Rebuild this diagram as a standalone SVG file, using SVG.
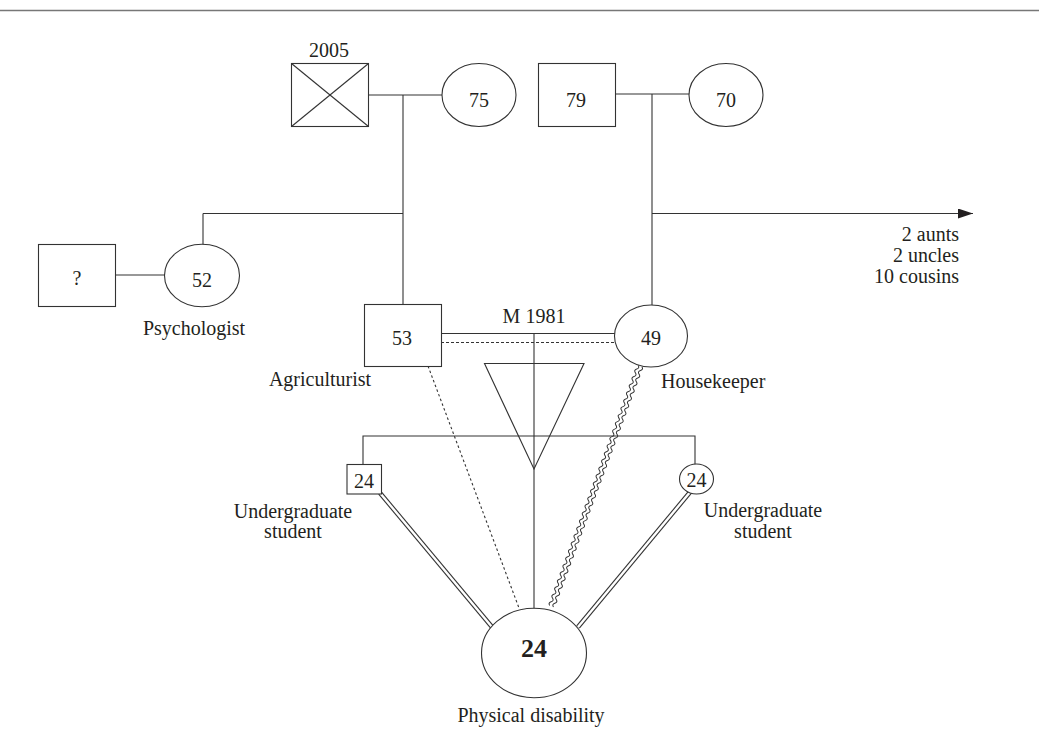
<svg xmlns="http://www.w3.org/2000/svg" width="1039" height="753" viewBox="0 0 1039 753">
<defs>
<style>
.s{fill:#fff;stroke:#333;stroke-width:1.1}
.ln{fill:none;stroke:#333;stroke-width:1.1}
.t{font-family:"Liberation Serif","Times New Roman",serif;font-size:20px;fill:#231f20}
.m{text-anchor:middle}
.e{text-anchor:end}
.dbl{fill:none;stroke:#333;stroke-width:4.6}
.dblw{fill:none;stroke:#fff;stroke-width:2.4}
.wv{fill:none;stroke:#333;stroke-width:1}
</style>
<marker id="arr" markerUnits="userSpaceOnUse" markerWidth="16" markerHeight="10" refX="15" refY="5" orient="auto">
<path d="M0,0 L15,5 L0,10 z" fill="#231f20"/>
</marker>
</defs>
<rect width="1039" height="753" fill="#fff"/>
<line x1="0" y1="10.5" x2="1039" y2="10.5" stroke="#777" stroke-width="1.5"/>

<g id="connectors">
<line class="ln" x1="368" y1="95" x2="442" y2="95"/>
<line class="ln" x1="403" y1="95" x2="403" y2="305"/>
<line class="ln" x1="203" y1="213.5" x2="403" y2="213.5"/>
<line class="ln" x1="203" y1="213.5" x2="203" y2="245"/>
<line class="ln" x1="115" y1="275" x2="165" y2="275"/>
<line class="ln" x1="615" y1="94" x2="690" y2="94"/>
<line class="ln" x1="652" y1="94" x2="652" y2="306"/>
<line class="ln" x1="652" y1="213.5" x2="973" y2="213.5" marker-end="url(#arr)"/>
<line class="ln" x1="441" y1="333.5" x2="615" y2="333.5"/>
<line class="ln" x1="441" y1="342.5" x2="615" y2="342.5" stroke-dasharray="3,2"/>
<line class="ln" x1="534" y1="333.5" x2="534" y2="609"/>
<polyline class="ln" points="363,465 363,436 695,436 695,465"/>
<line class="ln" x1="428" y1="366" x2="519" y2="608" stroke-dasharray="2.5,2.5" stroke-width="0.9"/>
<line class="dbl" x1="380" y1="493" x2="492" y2="627"/>
<line class="dblw" x1="380" y1="493" x2="492" y2="627"/>
<line class="dbl" x1="691" y1="491" x2="578" y2="627"/>
<line class="dblw" x1="691" y1="491" x2="578" y2="627"/>
<g transform="translate(640,366) rotate(110.2)">
<path class="wv" d="M0,-2 q2,-2.6 4,0 t4,0 4,0 4,0 4,0 4,0 4,0 4,0 4,0 4,0 4,0 4,0 4,0 4,0 4,0 4,0 4,0 4,0 4,0 4,0 4,0 4,0 4,0 4,0 4,0 4,0 4,0 4,0 4,0 4,0 4,0 4,0 4,0 4,0 4,0 4,0 4,0 4,0 4,0 4,0 4,0 4,0 4,0 4,0 4,0 4,0 4,0 4,0 4,0 4,0 4,0 4,0 4,0 4,0 4,0 4,0 4,0 4,0 4,0 4,0 4,0 4,0 4,0 4,0"/>
<path class="wv" d="M0,2 q2,-2.6 4,0 t4,0 4,0 4,0 4,0 4,0 4,0 4,0 4,0 4,0 4,0 4,0 4,0 4,0 4,0 4,0 4,0 4,0 4,0 4,0 4,0 4,0 4,0 4,0 4,0 4,0 4,0 4,0 4,0 4,0 4,0 4,0 4,0 4,0 4,0 4,0 4,0 4,0 4,0 4,0 4,0 4,0 4,0 4,0 4,0 4,0 4,0 4,0 4,0 4,0 4,0 4,0 4,0 4,0 4,0 4,0 4,0 4,0 4,0 4,0 4,0 4,0 4,0 4,0"/>
</g>
<text class="t m" x="534" y="323">M 1981</text>
<text class="t e" x="959" y="241">2 aunts</text>
<text class="t e" x="959" y="262">2 uncles</text>
<text class="t e" x="959" y="283">10 cousins</text>
</g>

<g id="grandfather-paternal">
<rect class="s" x="291.5" y="63.5" width="77" height="63"/>
<line class="ln" x1="291.5" y1="63.5" x2="368.5" y2="126.5"/>
<line class="ln" x1="368.5" y1="63.5" x2="291.5" y2="126.5"/>
<text class="t m" x="329" y="57">2005</text>
</g>
<g id="grandmother-paternal">
<ellipse class="s" cx="479" cy="95" rx="37" ry="31.5"/>
<text class="t m" x="479" y="107">75</text>
</g>
<g id="grandfather-maternal">
<rect class="s" x="538.5" y="63.5" width="77" height="63"/>
<text class="t m" x="576" y="107">79</text>
</g>
<g id="grandmother-maternal">
<ellipse class="s" cx="726" cy="95" rx="37" ry="31.5"/>
<text class="t m" x="726" y="107">70</text>
</g>
<g id="aunt-spouse">
<rect class="s" x="38.5" y="244.5" width="77" height="62"/>
<text class="t m" x="77" y="285">?</text>
</g>
<g id="aunt">
<ellipse class="s" cx="202" cy="275.5" rx="37.5" ry="31.3"/>
<text class="t m" x="202" y="287">52</text>
<text class="t m" x="194" y="335">Psychologist</text>
</g>
<g id="father">
<rect class="s" x="364.5" y="304.5" width="77" height="62"/>
<text class="t m" x="402" y="345">53</text>
<text class="t m" x="320" y="386">Agriculturist</text>
</g>
<g id="mother">
<ellipse class="s" cx="651" cy="336" rx="36.5" ry="31"/>
<text class="t m" x="651" y="345">49</text>
<text class="t" x="661" y="388">Housekeeper</text>
</g>
<g id="pregnancy">
<polygon class="ln" points="484.5,363.5 584,363.5 534,469"/>
</g>
<g id="brother">
<rect class="s" x="347" y="464.5" width="34.5" height="29.5"/>
<text class="t m" x="364" y="488">24</text>
<text class="t m" x="293" y="518">Undergraduate</text>
<text class="t m" x="293" y="538">student</text>
</g>
<g id="sister">
<ellipse class="s" cx="696.5" cy="479" rx="17" ry="15"/>
<text class="t m" x="696.5" y="487">24</text>
<text class="t m" x="763" y="517">Undergraduate</text>
<text class="t m" x="763" y="538">student</text>
</g>
<g id="index-person">
<ellipse class="s" cx="534" cy="653" rx="52.5" ry="44.7"/>
<text class="t m" x="534" y="657" style="font-size:26px;font-weight:bold">24</text>
<text class="t m" x="531" y="722">Physical disability</text>
</g>
</svg>
